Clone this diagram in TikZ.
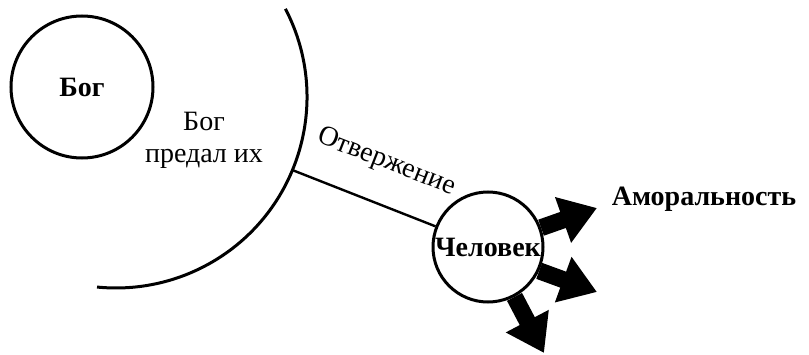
\documentclass[tikz,border=0pt]{standalone}
\usepackage{fontspec}
\setmainfont{Liberation Serif}
\usepackage{tikz}
\usetikzlibrary{arrows.meta,calc}

\begin{document}
\begin{tikzpicture}[x=0.5pt, y=0.5pt]
        \tikzset{
            being/.style={draw, circle, line width=1.5pt, inner sep=0pt, align=center, font=\fontsize{14}{16}\selectfont\bfseries},
            lbl/.style={font=\fontsize{14}{16}\selectfont, align=center, inner sep=0pt},
            boldlbl/.style={font=\fontsize{14}{16}\selectfont\bfseries, inner sep=0pt},
            link/.style={draw, line width=1.2pt},
            fatarrow/.style={draw, line width=8.5pt, -{Triangle[length=18pt, width=23pt]}}
        }
        \useasboundingbox (0,0) rectangle (809,354);

        % God and his sphere
        \node[being, minimum size=71pt] (god) at (82, 267) {Бог};
        \coordinate (sphere) at (116, 257);
        \draw[line width=1.5pt] ($(sphere)+(27.5:191)$) arc[start angle=27.5, end angle=-95.7, radius=191];
        \coordinate (rej) at ($(sphere)+(-22.5:191)$);
        \node[lbl] (gave) at (204, 214) {Бог\\предал их};

        % Man
        \node[being, minimum size=55pt] (man) at (488, 107) {Человек};
        \path[link] (rej) -- node[lbl, pos=0.55, sloped, above=14pt] (rejl) {Отвержение} (man);

        % Consequences
        \node[boldlbl] (amoral) at (704, 155) {Аморальность};
        \coordinate (tip1) at (597, 146);
        \coordinate (tip2) at (597, 62);
        \coordinate (tip3) at (544, 1);
        \path[fatarrow] (man.20) -- (tip1);
        \path[fatarrow] (man.-25) -- (tip2);
        \path[fatarrow] (man.-62) -- (tip3);

    \end{tikzpicture}
\end{document}
